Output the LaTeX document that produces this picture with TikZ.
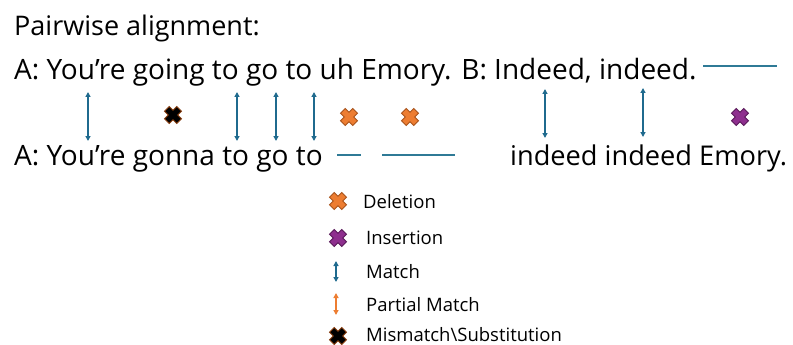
\documentclass[tikz,border=0pt]{standalone}
\usepackage{fontspec}
\setmainfont{Open Sans}
\usetikzlibrary{arrows.meta}
\definecolor{mblue}{HTML}{1F6A8E}
\definecolor{lblue}{HTML}{2F7A96}
\definecolor{dorange}{HTML}{ED7D31}
\definecolor{dorangeline}{HTML}{A9541C}
\definecolor{dpurple}{HTML}{8E2F8E}
\definecolor{dpurpleline}{HTML}{5A1A5A}
\definecolor{xbrown}{HTML}{8A3F10}
\tikzset{
  main/.style={inner sep=0pt, anchor=base west, font=\fontsize{28}{32}\selectfont},
  legtext/.style={inner sep=0pt, anchor=base west, font=\fontsize{18.5}{22}\selectfont},
  matcharrow/.style={draw=mblue, line width=1.4pt, {Triangle[length=5pt,width=5pt]}-{Triangle[length=5pt,width=5pt]}},
  partarrow/.style={draw=dorange, line width=1.4pt, {Triangle[length=5pt,width=5pt]}-{Triangle[length=5pt,width=5pt]}},
  gapline/.style={draw=lblue, line width=1.4pt},
  xmark/.pic={
    \path[pic actions, line width=0.9pt, rotate=45]
      (-3.3,-8.7) -- (3.3,-8.7) -- (3.3,-3.3) -- (8.7,-3.3) -- (8.7,3.3) -- (3.3,3.3)
      -- (3.3,8.7) -- (-3.3,8.7) -- (-3.3,3.3) -- (-8.7,3.3) -- (-8.7,-3.3) -- (-3.3,-3.3) -- cycle;
  },
  delmark/.style={fill=dorange, draw=dorangeline},
  insmark/.style={fill=dpurple, draw=dpurpleline},
  mismark/.style={fill=black, draw=xbrown},
}
\begin{document}
\begin{tikzpicture}[x=1pt,y=-1pt]
\useasboundingbox (0,0) rectangle (793,345);
% texts
\node[main, font=\fontsize{27}{30}\selectfont] (title) at (14,36) {Pairwise alignment:};
\node[main] (lineA) at (14,80) {A: You’re going to go to uh Emory. B: Indeed, indeed.};
\node[main] (lineB1) at (14,165) {A: You’re gonna to go to};
\node[main, font=\fontsize{27.2}{31}\selectfont] (lineB2) at (510,165) {indeed indeed Emory.};
% gap lines
\coordinate (g1a) at (703,66); \coordinate (g1b) at (777,66);
\draw[gapline] (g1a) -- (g1b);
\coordinate (g2a) at (337,155); \coordinate (g2b) at (361,155);
\draw[gapline] (g2a) -- (g2b);
\coordinate (g3a) at (382,155); \coordinate (g3b) at (455,155);
\draw[gapline] (g3a) -- (g3b);
% match arrows
\foreach \n/\x/\ya/\yb in {m1/88/92/141, m2/237/92/141, m3/276/92/141, m4/314/92/141, m5/545/89/138, m6/643/88/137}{
  \coordinate (\n t) at (\x,\ya);
  \coordinate (\n b) at (\x,\yb);
  \draw[matcharrow] (\n t) -- (\n b);
}
% markers
\pic[mismark] (x1) at (173,115) {xmark};
\pic[delmark] (x2) at (349,117) {xmark};
\pic[delmark] (x3) at (410,117) {xmark};
\pic[insmark] (x4) at (740,117) {xmark};
% legend
\pic[delmark] (l1) at (338,201) {xmark};
\node[legtext] (t1) at (363,208) {Deletion};
\pic[insmark] (l2) at (338,238) {xmark};
\node[legtext] (t2) at (366,244) {Insertion};
\coordinate (l3t) at (336,261); \coordinate (l3b) at (336,282);
\draw[matcharrow] (l3t) -- (l3b);
\node[legtext] (t3) at (366,278) {Match};
\coordinate (l4t) at (336,293); \coordinate (l4b) at (336,315);
\draw[partarrow] (l4t) -- (l4b);
\node[legtext] (t4) at (366,311) {Partial Match};
\pic[mismark] (l5) at (338,336) {xmark};
\node[legtext] (t5) at (366,341) {Mismatch\textbackslash Substitution};
\end{tikzpicture}
\end{document}
